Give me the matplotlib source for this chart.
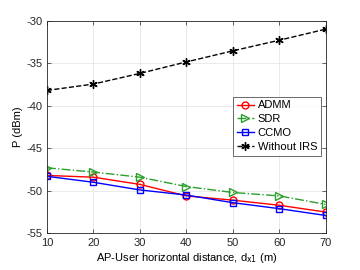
"""Transmit power vs AP-user horizontal distance."""
import matplotlib
matplotlib.use('Agg')
import matplotlib.pyplot as plt

dist = [10, 20, 30, 40, 50, 60, 70]
admm = [-48.2, -48.4, -49.25, -50.6, -51.1, -51.7, -52.5]
sdr = [-47.3, -47.8, -48.4, -49.5, -50.2, -50.6, -51.6]
ccmo = [-48.3, -49.0, -49.9, -50.5, -51.4, -52.1, -52.9]
no_irs = [-38.2, -37.45, -36.2, -34.85, -33.55, -32.3, -31.0]

plt.rcParams['font.family'] = 'Liberation Sans'

fig = plt.figure(figsize=(3.6, 2.7), dpi=100)
ax = fig.add_axes([47 / 360, 1 - 233.3 / 270, 278.5 / 360, 212.6 / 270])

ax.plot(dist, admm, '-', color='red', marker='o', ms=5, mfc='none', lw=1.0, label='ADMM')
ax.plot(dist, sdr, '-.', color='#2ca02c', marker='>', ms=5.5, mfc='none', lw=1.0, label='SDR')
ax.plot(dist, ccmo, '-', color='blue', marker='s', ms=5, mfc='none', lw=1.0, label='CCMO')
ax.plot(dist, no_irs, '--', color='black', marker=(6, 2, 0), ms=6, lw=1.0, label='Without IRS')

ax.set_xlim(10, 70)
ax.set_ylim(-55, -30)
ax.set_xticks(dist)
ax.set_yticks([-55, -50, -45, -40, -35, -30])
ax.set_yticklabels(['-55', '-50', '-45', '-40', '-35', '-30'])
ax.tick_params(direction='in', labelsize=8, length=3, width=0.5, colors='#262626',
               top=True, right=True)
for s in ax.spines.values():
    s.set_linewidth(0.6)
    s.set_color('#262626')
ax.grid(True, color='#e6e6e6', lw=0.6)
ax.set_axisbelow(True)
ax.set_xlabel('AP-User horizontal distance, d$_{\\mathrm{x1}}$ (m)', fontsize=8, labelpad=2)
ax.set_ylabel('P (dBm)', fontsize=8, labelpad=2)

leg = ax.legend(loc='upper right', bbox_to_anchor=(0.984, 0.643), fontsize=8,
                frameon=True, fancybox=False, edgecolor='#262626',
                handlelength=1.6, handletextpad=0.3, borderpad=0.35, labelspacing=0.35,
                borderaxespad=0)
leg.get_frame().set_linewidth(0.6)

fig.savefig('out.png', dpi=100)
